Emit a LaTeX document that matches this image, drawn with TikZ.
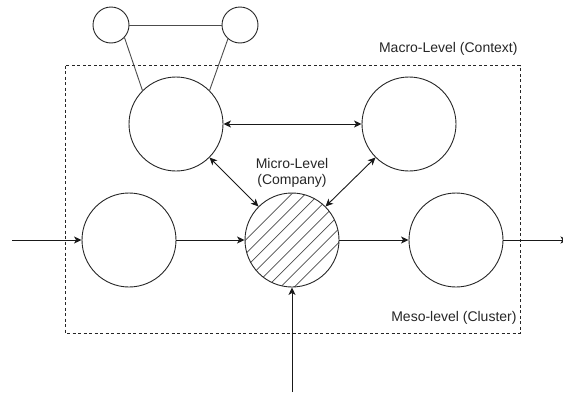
\documentclass[tikz,border=0pt]{standalone}
\usepackage{fontspec}
\setmainfont{Liberation Sans}
\usetikzlibrary{arrows.meta}
\begin{document}
\begin{tikzpicture}[x=1pt,y=-1pt,
  line width=0.9pt,
  unit/.style={circle,draw=black!85,line width=0.9pt,inner sep=0pt,minimum size=94pt},
  small/.style={circle,draw=black!85,line width=0.9pt,inner sep=0pt,minimum size=36pt},
  flow/.style={draw=black!90,-{Stealth[length=7.5pt,width=7pt,inset=2pt]}},
  both/.style={draw=black!90,{Stealth[length=7.5pt,width=7pt,inset=2pt]}-{Stealth[length=7.5pt,width=7pt,inset=2pt]}},
  tie/.style={draw=black!70,line width=0.9pt},
  lbl/.style={font=\fontsize{14}{16}\selectfont,text=black!85,inner sep=0pt}
]
\useasboundingbox (0,0) rectangle (563,394);

% cluster boundary
\draw[black!85,dash pattern=on 3pt off 2.5pt] (65,65.5) rectangle (520,333);

% macro-level units
\node[unit] (ml) at (176,124) {};
\node[unit] (mr) at (409,124) {};
\node[small] (sl) at (111,25) {};
\node[small] (sr) at (240,25) {};

% hatching of the company, then its outline
\begin{scope}
  \clip (292,240) circle (47pt);
  \foreach \k in {0,...,7} {
    \pgfmathsetmacro{\cc}{46.3-13.66*\k}
    \draw[black!70,line width=0.7pt] (292-80,240+80-\cc) -- (292+80,240-80-\cc);
  }
\end{scope}

% meso-level chain
\node[unit] (a) at (129,240) {};
\node[unit] (c) at (292,240) {};
\node[unit] (b) at (456,240) {};

% free ends
\coordinate (inL) at (12,240);
\coordinate (outR) at (568,240);
\coordinate (inB) at (292,392);

% connectors
\draw[tie] (sl) -- (sr);
\draw[tie] (sl.-43) -- (ml.135);
\draw[tie] (sr.-131) -- (ml.45);
\draw[both] (ml) -- (mr);
\draw[both] (ml.-45) -- (c.135);
\draw[both] (mr.-135) -- (c.45);
\draw[flow] (inL) -- (a);
\draw[flow] (a) -- (c);
\draw[flow] (c) -- (b);
\draw[flow] (b) -- (outR);
\draw[flow] (inB) -- (c);

% labels
\node[lbl,anchor=base east] (tmacro) at (518,52) {Macro-Level (Context)};
\node[lbl,anchor=base east] (tmeso) at (517,321) {Meso-level (Cluster)};
\node[lbl,anchor=base] (tmicro1) at (292,168) {Micro-Level};
\node[lbl,anchor=base] (tmicro2) at (292,184) {(Company)};
\end{tikzpicture}
\end{document}
